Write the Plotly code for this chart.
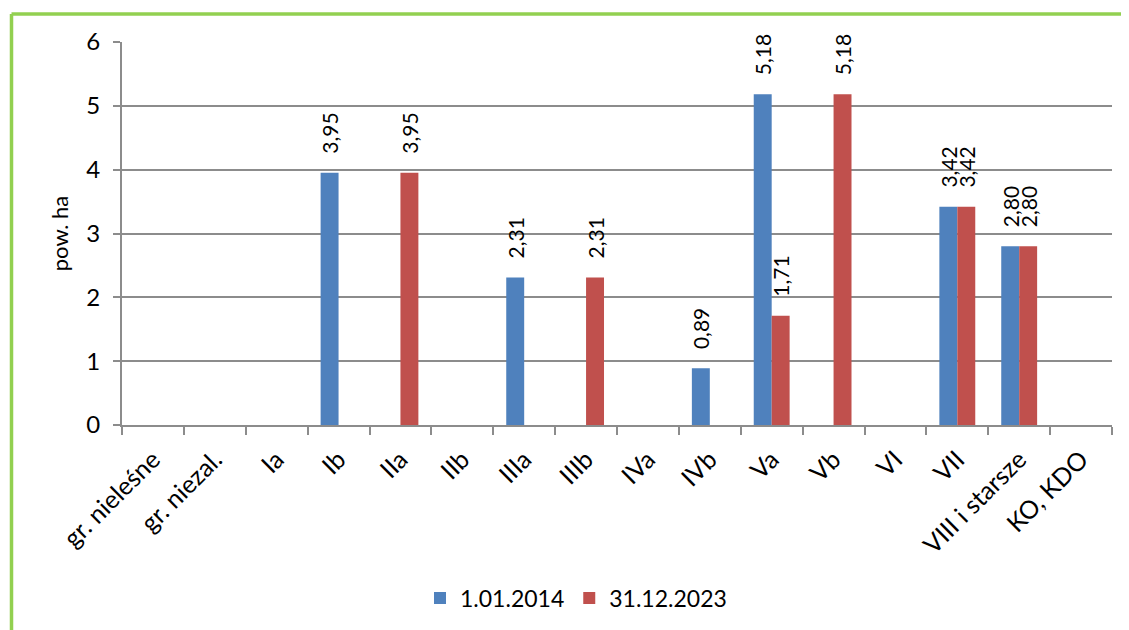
import plotly.graph_objects as go

categories = ["gr. nieleśne", "gr. niezal.", "Ia", "Ib", "IIa", "IIb", "IIIa", "IIIb",
              "IVa", "IVb", "Va", "Vb", "VI", "VII", "VIII i starsze", "KO, KDO"]
s2014 = [0, 0, 0, 3.95, 0, 0, 2.31, 0, 0, 0.89, 5.18, 0, 0, 3.42, 2.80, 0]
s2023 = [0, 0, 0, 0, 3.95, 0, 0, 2.31, 0, 0, 1.71, 5.18, 0, 3.42, 2.80, 0]
series_names = ["1.01.2014", "31.12.2023"]
y_ticks = [0, 1, 2, 3, 4, 5, 6]

FONT = "Lato"
W, H = 1121, 622          # page body has 8px margin
L, R, T, B = 114, 17, 34, 204
pw, ph = W - L - R, H - T - B

def lab(v):
    return ("\u00a0\u00a0\u00a0" + ("%.2f" % v).replace(".", ",")) if v > 0 else ""

fig = go.Figure()
for name, vals, col in [(series_names[0], s2014, "#4F81BD"), (series_names[1], s2023, "#C0504D")]:
    fig.add_trace(go.Bar(
        x=categories, y=vals, name=name, marker_color=col, marker_line_width=0,
        text=[lab(v) for v in vals], textposition="outside", textangle=-90,
        constraintext="none",
        textfont=dict(family=FONT, size=21, color="black"),
        cliponaxis=False,
    ))

gx = (3.5 - L) / pw
gy = 1 + (T - 6) / ph
fig.add_shape(type="line", xref="paper", yref="paper", x0=gx, x1=(W + 10 - L) / pw, y0=gy, y1=gy,
              line=dict(color="#92D050", width=3.5))
fig.add_shape(type="line", xref="paper", yref="paper", x0=gx, x1=gx, y0=gy, y1=(H - B - H - 10) / ph,
              line=dict(color="#92D050", width=3.5))

fig.update_layout(
    width=W, height=H,
    margin=dict(l=L, r=R, t=T, b=B),
    paper_bgcolor="white", plot_bgcolor="white",
    barmode="group", bargap=0.42, bargroupgap=0,
    font=dict(family=FONT, size=20, color="black"),
    showlegend=True,
    legend=dict(orientation="h", x=0.5 - 41 / pw, xanchor="center", y=(H - B - 590) / ph, yanchor="middle",
                font=dict(family=FONT, size=23)),
)
fig.update_xaxes(
    type="category", showline=True, linecolor="#8C8C8C", linewidth=2,
    ticks="outside", tickson="boundaries", ticklen=8, tickcolor="#8C8C8C", tickwidth=2,
    tickangle=-45, tickfont=dict(family=FONT, size=25), showgrid=False,
    ticklabelstandoff=8,
)
fig.update_yaxes(
    range=[0, 6], tickvals=y_ticks, showline=True, linecolor="#8C8C8C", linewidth=2,
    ticks="outside", ticklen=7, tickcolor="#8C8C8C", tickwidth=2,
    showgrid=True, gridcolor="#8C8C8C", gridwidth=2, zeroline=False,
    tickfont=dict(family=FONT, size=24), ticklabelstandoff=8,
    title=dict(text="pow. ha", font=dict(family=FONT, size=22), standoff=12),
)
fig.write_html("out.html")
